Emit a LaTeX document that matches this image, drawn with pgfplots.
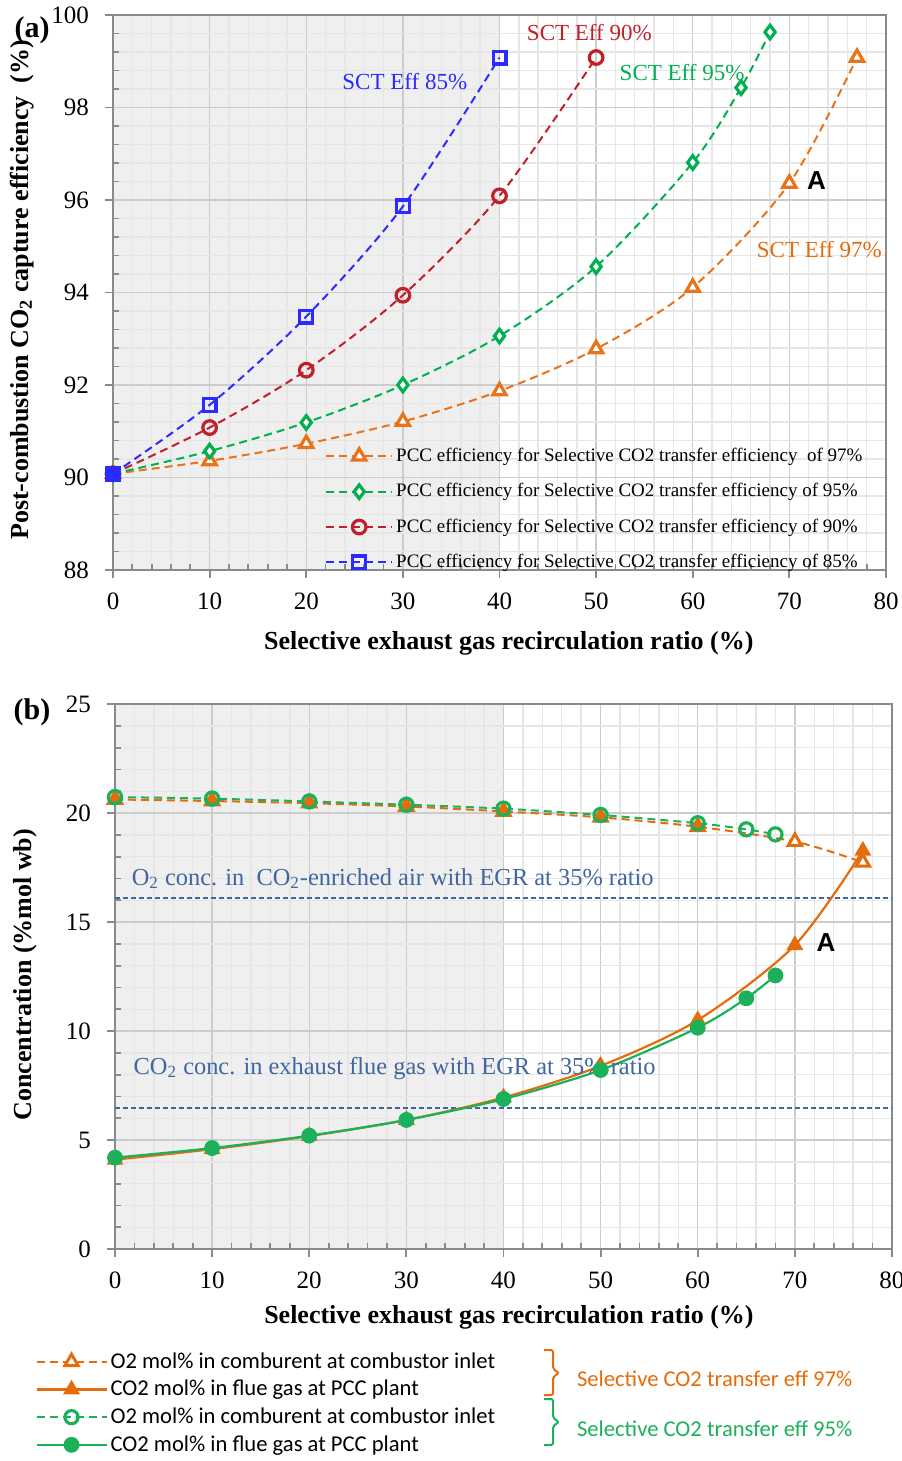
\documentclass[border=0pt]{standalone}
\usepackage{fontspec}
\setmainfont{Liberation Serif}
\newfontfamily\calib{Carlito}
\newfontfamily\arialf{Liberation Sans}
\usepackage{pgfplots}
\pgfplotsset{compat=1.18}
\definecolor{cblue}{HTML}{2B2BFF}
\definecolor{cred}{HTML}{C0202A}
\definecolor{cgreen}{HTML}{00B050}
\definecolor{corange}{HTML}{E8731A}
\definecolor{borange}{HTML}{E46C0A}
\definecolor{bgreen}{HTML}{1DB05A}
\definecolor{steel}{HTML}{3F66A0}
\definecolor{gridmaj}{HTML}{CCCCCC}
\definecolor{gridmin}{HTML}{E6E6E6}
\definecolor{axisgray}{HTML}{8A8A8A}
\definecolor{shade}{HTML}{EFEFEF}
\pgfplotsset{
  common/.style={
    scale only axis, set layers,
    xmin=0, xmax=80, xtick={0,10,...,80},
    minor x tick num=4, minor y tick num=4,
    grid=both,
    major grid style={draw=gridmaj, line width=0.7pt},
    minor grid style={draw=gridmin, line width=0.7pt},
    axis line style={draw=axisgray, line width=0.9pt},
    tick style={draw=axisgray, line width=0.9pt},
    tick align=inside, major tick length=-4pt, minor tick length=3pt,
    tick pos=left,
    /pgf/number format/assume math mode=true,
    ticklabel style={font=\fontsize{12.5}{14}\selectfont},
    label style={font=\bfseries\fontsize{13}{15}\selectfont},
    xticklabel style={yshift=-8pt},
    yticklabel style={xshift=-8.5pt},
  },
}
\begin{document}
\begin{tikzpicture}
% ---------------- (a) ----------------
\begin{axis}[common,
  at={(56.5pt,-7.5pt)}, anchor=north west,
  width=386.5pt, height=277.5pt,
  ymin=88, ymax=100, ytick={88,90,...,100},
  xlabel={Selective exhaust gas recirculation ratio (\%)},
  ylabel={Post-combustion CO\textsubscript{2} capture efficiency~ (\%)},
  xlabel style={at={(axis description cs:0.512,-0.1315)}, anchor=center},
  ylabel style={at={(axis description cs:-0.118,0.505)}, anchor=center},
  legend style={at={(0.274,0)}, anchor=south west, yshift=-2pt, draw=none, fill=none,
    font=\fontsize{9.5}{11}\selectfont, row sep=6.5pt, inner sep=0pt,
    nodes={inner sep=1.5pt}},
  legend cell align=left,
  legend image code/.code={\draw[mark repeat=2,mark phase=2,#1] plot coordinates {(0pt,0pt)(16.5pt,0pt)(33pt,0pt)};},
]
\addplot[on layer=axis background, draw=none, fill=shade, forget plot] coordinates {(0,88) (40,88) (40,100) (0,100)} -- cycle;
\addplot[corange, line width=1pt, dash pattern=on 4pt off 2.5pt, smooth, mark=triangle*, mark size=3.8pt,
  mark options={solid, fill=white, line width=1.6pt}]
  coordinates {(0,90.08)(10,90.36)(20,90.73)(30,91.21)(40,91.87)(50,92.78)(60,94.11)(70,96.36)(77,99.08)};
\addlegendentry{PCC efficiency for Selective CO2 transfer efficiency~ of 97\%}
\addplot[cgreen, line width=1pt, dash pattern=on 4pt off 2.5pt, smooth, mark=diamond*, mark size=3.4pt,
  mark options={solid, fill=white, line width=1.6pt}]
  coordinates {(0,90.08)(10,90.57)(20,91.19)(30,92.00)(40,93.06)(50,94.56)(60,96.81)(65,98.43)(68,99.63)};
\addlegendentry{PCC efficiency for Selective CO2 transfer efficiency of 95\%}
\addplot[cred, line width=1pt, dash pattern=on 4pt off 2.5pt, smooth, mark=o, mark size=3.4pt,
  mark options={solid, fill=white, line width=1.6pt}]
  coordinates {(0,90.08)(10,91.08)(20,92.32)(30,93.94)(40,96.09)(50,99.08)};
\addlegendentry{PCC efficiency for Selective CO2 transfer efficiency of 90\%}
\addplot[cblue, line width=1pt, dash pattern=on 4pt off 2.5pt, smooth, mark=square, mark size=3.2pt,
  mark options={solid, fill=white, line width=1.6pt}]
  coordinates {(0,90.08)(10,91.57)(20,93.48)(30,95.86)(40,99.08)};
\addlegendentry{PCC efficiency for Selective CO2 transfer efficiency of 85\%}
\addplot[only marks, mark=square*, mark size=3.4pt, cblue, forget plot] coordinates {(0,90.08)};
\node[cblue, font=\fontsize{11.5}{13}\selectfont] at (axis cs:30.2,98.57) {SCT Eff 85\%};
\node[cred, font=\fontsize{11.5}{13}\selectfont] at (axis cs:49.3,99.61) {SCT Eff 90\%};
\node[cgreen, font=\fontsize{11.5}{13}\selectfont] at (axis cs:58.9,98.75) {SCT Eff 95\%};
\node[borange, font=\fontsize{11.5}{13}\selectfont] at (axis cs:73.1,94.92) {SCT Eff 97\%};
\node[font=\arialf\bfseries\fontsize{13}{15}\selectfont] at (axis cs:72.8,96.41) {A};
\end{axis}
\node[font=\bfseries\fontsize{15}{17}\selectfont] at (16pt,-15pt) {(a)};
% ---------------- (b) ----------------
\begin{axis}[common,
  at={(57.5pt,-352pt)}, anchor=north west,
  width=388.5pt, height=272.5pt,
  ymin=0, ymax=25, ytick={0,5,...,25},
  xlabel={Selective exhaust gas recirculation ratio (\%)},
  ylabel={Concentration (\%mol wb)},
  xlabel style={at={(axis description cs:0.507,-0.1248)}, anchor=center},
  ylabel style={at={(axis description cs:-0.1158,0.503)}, anchor=center},
  legend style={at={(axis description cs:0,0)}, anchor=north west, xshift=-40pt, yshift=-50pt,
    draw=none, fill=none, font=\calib\fontsize{11.3}{12.5}\selectfont, row sep=1.5pt, inner sep=0pt,
    nodes={inner sep=1.5pt}},
  legend cell align=left,
  legend image code/.code={\draw[mark repeat=2,mark phase=2,#1] plot coordinates {(0pt,0pt)(17.5pt,0pt)(35pt,0pt)};},
]
\addplot[on layer=axis background, draw=none, fill=shade, forget plot] coordinates {(0,0) (40,0) (40,25) (0,25)} -- cycle;
\addplot[steel, line width=1.1pt, dash pattern=on 2.5pt off 1.5pt, forget plot] coordinates {(0,16.1)(80,16.1)};
\addplot[steel, line width=1.1pt, dash pattern=on 2.5pt off 1.5pt, forget plot] coordinates {(0,6.47)(80,6.47)};
\addplot[borange, line width=1pt, dash pattern=on 4pt off 2.5pt, smooth, mark=triangle*, mark size=3.8pt,
  mark options={solid, fill=white, line width=1.5pt}]
  coordinates {(0,20.62)(10,20.55)(20,20.45)(30,20.30)(40,20.07)(50,19.80)(60,19.37)(70,18.69)(77,17.74)};
\addlegendentry{O2 mol\% in comburent at combustor inlet}
\addplot[only marks, borange, mark=triangle*, mark size=3.8pt, mark indices={1,...,7}, forget plot]
  coordinates {(0,20.62)(10,20.55)(20,20.45)(30,20.30)(40,20.07)(50,19.80)(60,19.37)(70,18.69)(77,17.74)};
\addplot[borange, line width=1.1pt, smooth, mark=triangle*, mark size=3.8pt, mark options={solid}]
  coordinates {(0,4.10)(10,4.58)(20,5.18)(30,5.92)(40,6.95)(50,8.40)(60,10.50)(70,13.94)(77,18.27)};
\addlegendentry{CO2 mol\% in flue gas at PCC plant}
\addplot[bgreen, line width=1pt, dash pattern=on 4pt off 2.5pt, smooth, mark=o, mark size=3.3pt,
  mark options={solid, line width=1.6pt}]
  coordinates {(0,20.73)(10,20.66)(20,20.53)(30,20.38)(40,20.20)(50,19.91)(60,19.53)(65,19.25)(68,19.02)};
\addlegendentry{O2 mol\% in comburent at combustor inlet}
\addplot[bgreen, line width=1.1pt, smooth, mark=*, mark size=3.4pt, mark options={solid}]
  coordinates {(0,4.19)(10,4.63)(20,5.20)(30,5.92)(40,6.88)(50,8.21)(60,10.15)(65,11.50)(68,12.55)};
\addlegendentry{CO2 mol\% in flue gas at PCC plant}
\node[steel, anchor=west, font=\fontsize{12.2}{14}\selectfont] at (axis cs:1.0,17.0) {O\textsubscript{2} conc. in~ CO\textsubscript{2}-enriched air with EGR at 35\% ratio};
\node[steel, anchor=west, font=\fontsize{12.2}{14}\selectfont] at (axis cs:1.2,8.3) {CO\textsubscript{2} conc. in exhaust flue gas with EGR at 35\% ratio};
\node[font=\arialf\bfseries\fontsize{13}{15}\selectfont] at (axis cs:73.2,14.04) {A};
\end{axis}
\node[font=\bfseries\fontsize{15}{17}\selectfont] at (16pt,-356pt) {(b)};
% braces
\draw[borange, line width=1pt, rounded corners=1pt] (272pt,-675pt) -- (276.5pt,-675pt) -- (276.5pt,-684.5pt) -- (279.5pt,-686.5pt) -- (276.5pt,-688.5pt) -- (276.5pt,-697.5pt) -- (272pt,-697.5pt);
\draw[bgreen, line width=1pt, rounded corners=1pt] (272pt,-699.5pt) -- (276.5pt,-699.5pt) -- (276.5pt,-709pt) -- (279.5pt,-711pt) -- (276.5pt,-713pt) -- (276.5pt,-722.5pt) -- (272pt,-722.5pt);
\node[borange, anchor=west, font=\calib\fontsize{11.3}{12.5}\selectfont] at (285pt,-689.5pt) {Selective CO2 transfer eff 97\%};
\node[bgreen, anchor=west, font=\calib\fontsize{11.3}{12.5}\selectfont] at (285pt,-714.5pt) {Selective CO2 transfer eff 95\%};
\pgfresetboundingbox
\useasboundingbox (0,0) rectangle (450.5pt,-730.5pt);
\end{tikzpicture}
\end{document}
